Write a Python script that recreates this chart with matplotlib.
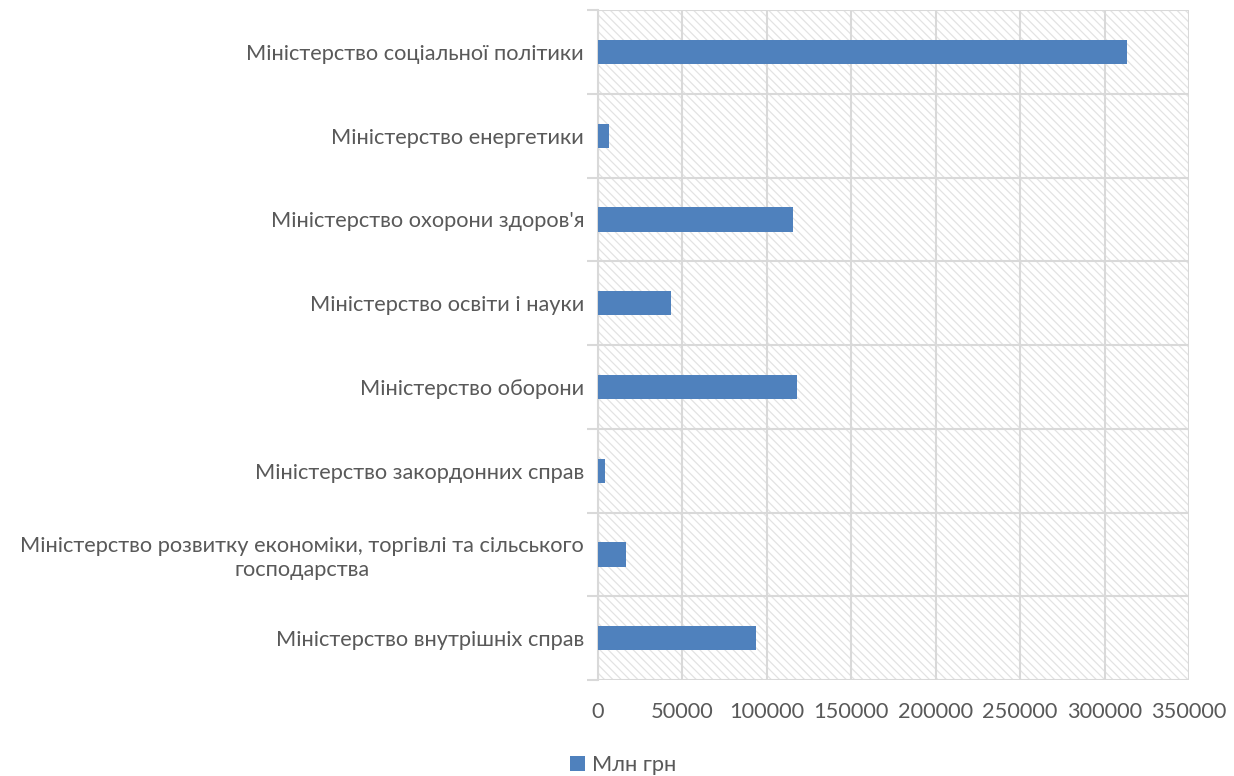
import matplotlib.pyplot as plt
from matplotlib.patches import Rectangle

plt.rcParams['font.family'] = ['Lato', 'DejaVu Sans']

categories = [
    "Міністерство внутрішніх справ",
    "Міністерство розвитку економіки, торгівлі та сільського\nгосподарства",
    "Міністерство закордонних справ",
    "Міністерство оборони",
    "Міністерство освіти і науки",
    "Міністерство охорони здоров'я",
    "Міністерство енергетики",
    "Міністерство соціальної політики",
]
values = [93500, 16500, 4200, 117800, 43200, 115400, 6500, 313200]
series_name = "Млн грн"
xticks = [0, 50000, 100000, 150000, 200000, 250000, 300000, 350000]

fig = plt.figure(figsize=(12.34, 7.76), dpi=100)
ax = fig.add_axes([0.4846, 0.1237, 0.4789, 0.8633])

plt.rcParams['hatch.linewidth'] = 0.9
ax.add_patch(Rectangle((0, 0), 1, 1, transform=ax.transAxes, facecolor='white',
                       edgecolor='#e3e3e3', hatch='\\\\\\\\', linewidth=0, zorder=0))

ax.barh(range(len(categories)), values, height=0.29, color='#4f81bd', label=series_name, zorder=3)

ax.set_xlim(0, 350000)
ax.set_ylim(-0.5, len(categories) - 0.5)
ax.set_xticks(xticks)
ax.set_xticklabels([str(t) for t in xticks])
ax.set_yticks(range(len(categories)))
ax.set_yticklabels(categories, ha='right', multialignment='center')
ax.tick_params(axis='y', which='major', length=0, pad=10, labelsize=15.7, labelcolor='#595959')
ax.tick_params(axis='x', length=0, pad=16, labelsize=15.7, labelcolor='#595959')

# horizontal grid between categories, with small ticks sticking out left
ax.set_yticks([i - 0.5 for i in range(len(categories) + 1)], minor=True)
ax.tick_params(axis='y', which='minor', length=8, width=1.5, color='#d9d9d9')
ax.grid(which='minor', axis='y', color='#d9d9d9', linewidth=1.5, zorder=1)
ax.grid(which='major', axis='x', color='#d9d9d9', linewidth=1.5, zorder=1)
ax.grid(which='major', axis='y', visible=False)

for s in ['top', 'right', 'bottom']:
    ax.spines[s].set_visible(False)
ax.spines['left'].set_color('#d9d9d9')
ax.spines['left'].set_linewidth(1.5)

fig.legend(loc='lower center', bbox_to_anchor=(0.505, -0.024), frameon=False, fontsize=15.7,
           handlelength=0.7, handleheight=0.7, handletextpad=0.3, labelcolor='#595959')

fig.savefig('out.png', dpi=100)
